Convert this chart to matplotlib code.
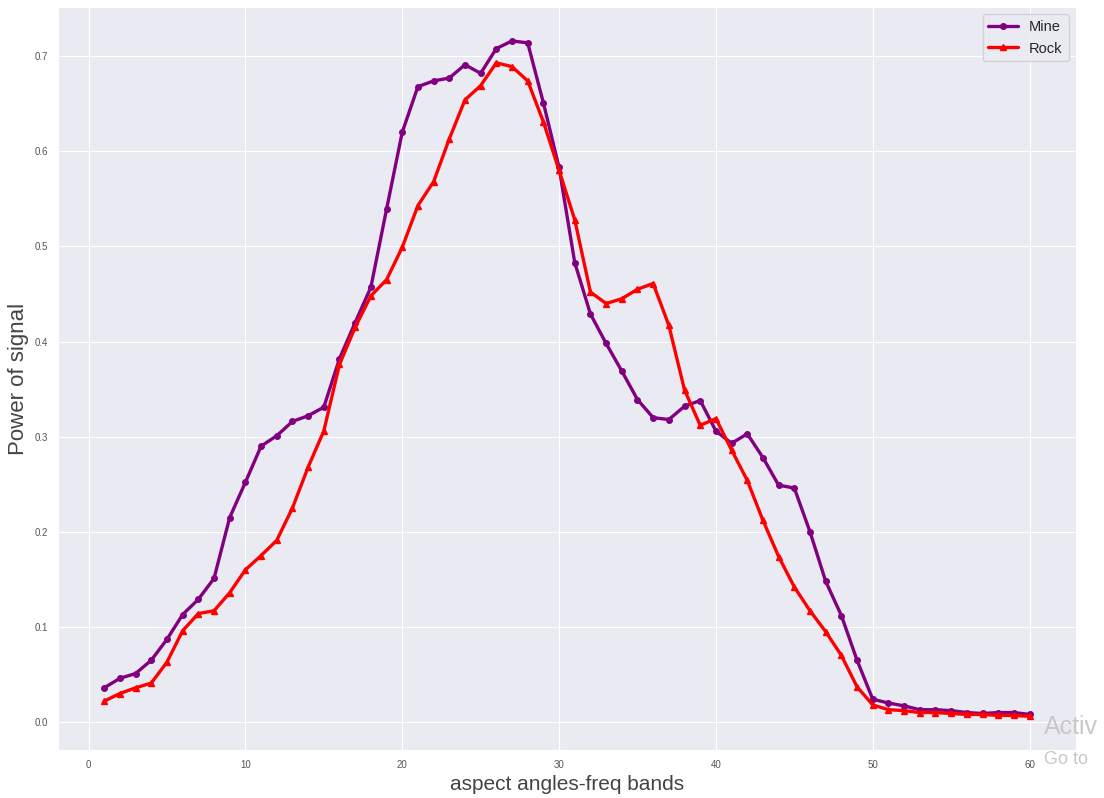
import numpy as np
import matplotlib.pyplot as plt
import seaborn as sns

bands = np.arange(1, 61)

mine = [0.036, 0.046, 0.051, 0.065, 0.087, 0.113, 0.129, 0.151, 0.215, 0.252,
        0.290, 0.301, 0.316, 0.322, 0.331, 0.382, 0.420, 0.457, 0.539, 0.620,
        0.668, 0.674, 0.677, 0.691, 0.682, 0.708, 0.716, 0.714, 0.651, 0.583,
        0.483, 0.429, 0.398, 0.369, 0.339, 0.320, 0.318, 0.332, 0.338, 0.306,
        0.293, 0.303, 0.278, 0.249, 0.246, 0.200, 0.148, 0.112, 0.065, 0.024,
        0.020, 0.017, 0.013, 0.013, 0.012, 0.010, 0.009, 0.010, 0.010, 0.008]

rock = [0.022, 0.030, 0.036, 0.041, 0.063, 0.096, 0.114, 0.117, 0.136, 0.160,
        0.175, 0.191, 0.225, 0.268, 0.306, 0.376, 0.415, 0.448, 0.465, 0.499,
        0.543, 0.568, 0.613, 0.654, 0.669, 0.693, 0.689, 0.674, 0.631, 0.580,
        0.528, 0.452, 0.440, 0.445, 0.455, 0.461, 0.417, 0.349, 0.312, 0.319,
        0.286, 0.254, 0.212, 0.174, 0.142, 0.117, 0.095, 0.070, 0.037, 0.018,
        0.013, 0.012, 0.010, 0.010, 0.009, 0.008, 0.008, 0.007, 0.007, 0.006]

sns.set_style('darkgrid', {'grid.linewidth': 0.8})
plt.rcParams['font.family'] = ['Liberation Sans', 'DejaVu Sans']

fig = plt.figure(figsize=(11.04, 7.98), dpi=100)
ax = fig.add_axes([0.0525, 0.060, 0.922, 0.931])

ax.plot(bands, mine, color='purple', marker='o', markersize=4, linewidth=2.4, label='Mine')
ax.plot(bands, rock, color='red', marker='^', markersize=4, linewidth=2.4, label='Rock')

ax.set_xlabel('aspect angles-freq bands', fontsize=15, color='#444444')
ax.set_ylabel('Power of signal', fontsize=16, color='#444444')
ax.tick_params(labelsize=7, colors='#555555')
ax.legend(loc='upper right', fontsize=10.5)

# windows watermark, only its left part is visible
fig.text(0.946, 0.080, 'Activ', fontsize=18, color='#c8c8c8')
fig.text(0.946, 0.043, 'Go to', fontsize=13, color='#c8c8c8')

plt.savefig('out.png', dpi=100)
